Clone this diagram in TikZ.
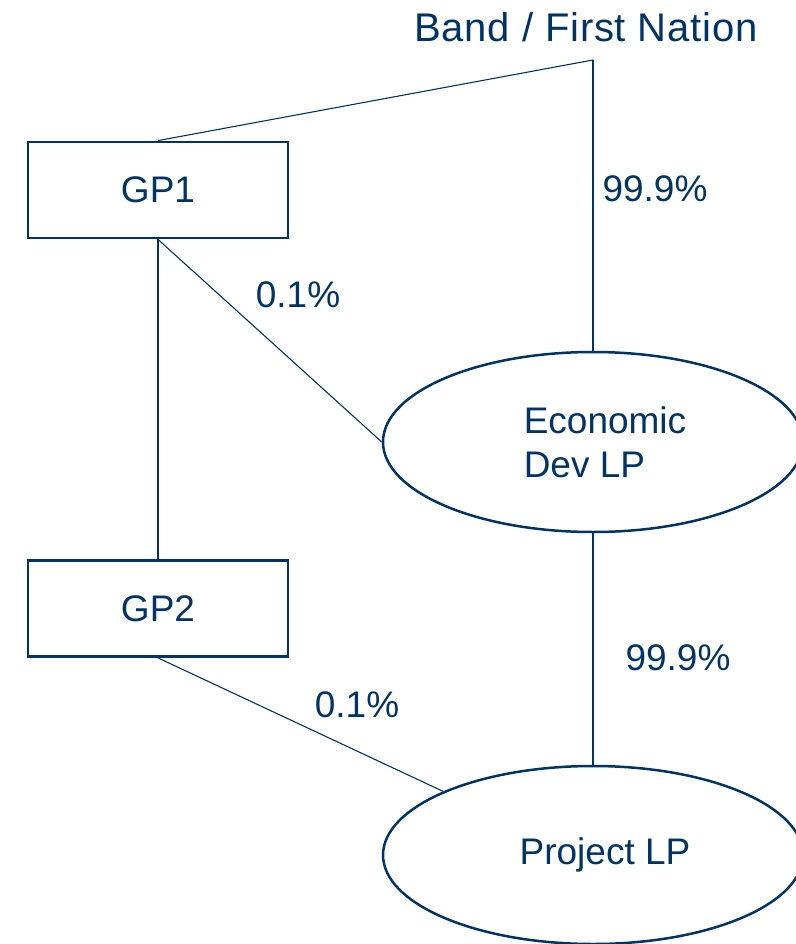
\documentclass[tikz,border=0pt]{standalone}
\usepackage{fontspec}
\setmainfont{Liberation Sans}
\usetikzlibrary{shapes,shapes.geometric}
\usetikzlibrary{positioning}
\definecolor{navy}{RGB}{0,51,102}

\begin{document}
\begin{tikzpicture}[x=1pt,y=-1pt,
  every node/.style={text=navy,font=\fontsize{37}{44}\selectfont},
  gpbox/.style={draw=navy,line width=2.8pt,minimum width=260pt,minimum height=96pt,inner sep=0pt},
  lpell/.style={ellipse,draw=navy,line width=2.5pt,minimum width=420pt,minimum height=180pt,inner sep=0pt},
  link/.style={draw=navy,line width=1.1pt}]
\useasboundingbox (0,0) rectangle (795,944);
\draw(586,27) node[font=\fontsize{40}{48}\selectfont] (band) {\addfontfeature{LetterSpace=2}Band / First Nation};
\coordinate (top) at (593,60);
\draw(158,190) node[gpbox] (gp1) {GP1};
\draw(158,608.5) node[gpbox] (gp2) {GP2};
\draw(593,442) node[lpell,label={[xshift=12pt,align=left]center:Economic\\Dev LP}] (edlp) {};
\draw(593,855) node[lpell,minimum height=178pt,label={[xshift=12pt]center:Project LP}] (plp) {};
\draw[link] (top) -- (gp1.north);
\draw[link] (top) -- (edlp.north);
\draw[link] (gp1.south) -- (edlp.west);
\draw[link] (gp1.south) -- (gp2.north);
\draw[link] (gp2.south) -- (plp.157);
\draw[link] (edlp.south) -- (plp.north);
\draw(655,189) node (p1) {99.9\%};
\draw(298,295) node (p2) {0.1\%};
\draw(678,658) node (p3) {99.9\%};
\draw(357,705) node (p4) {0.1\%};
\end{tikzpicture}
\end{document}
